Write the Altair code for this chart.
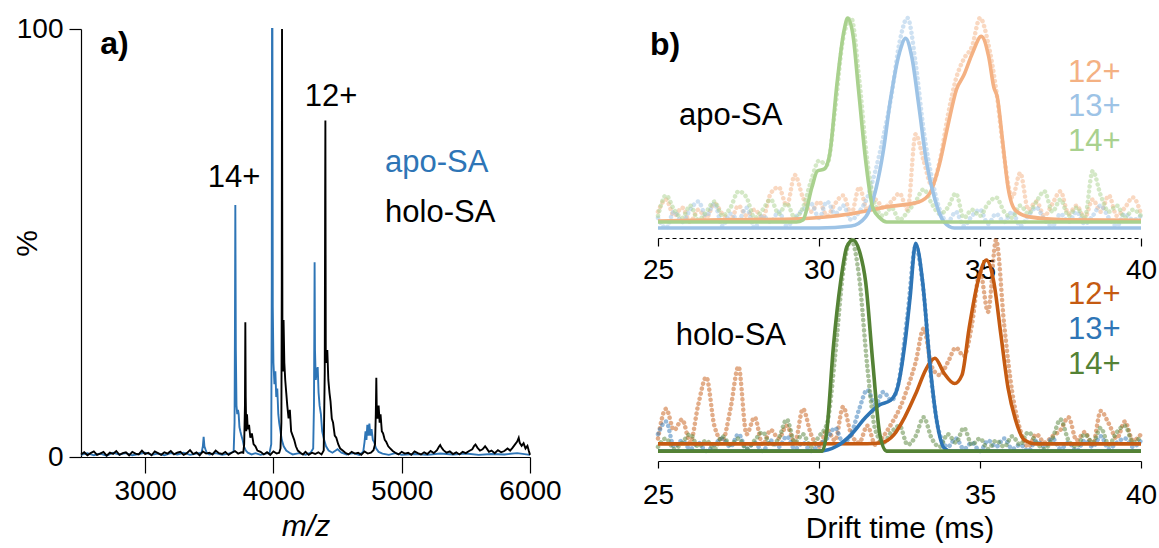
import altair as alt
import pandas as pd

FONT = "Liberation Sans"
FS = 28      # tick labels
FA = 31      # annotations / titles

# ---------------- panel a: mass spectra (m/z, %) ----------------
APO_SPECTRUM = [
    (2500, 0.5), (2550, 0.9), (2600, 0.4), (2650, 0.8), (2700, 0.3), (2750, 1.0), (2800, 0.6), (2850, 0.9),
    (2900, 0.4), (2950, 0.7), (3000, 1.0), (3050, 0.5), (3100, 0.8), (3150, 0.4), (3200, 0.9), (3250, 0.6),
    (3300, 1.0), (3350, 0.5), (3400, 0.8), (3440, 1.0), (3450, 2.5), (3456, 4.7), (3462, 2.5), (3470, 1.8),
    (3480, 1.0), (3500, 0.6), (3550, 0.9), (3600, 0.5), (3650, 0.8), (3690, 1.2), (3697, 8.0),
    (3700, 30.0), (3703, 58.9), (3707, 25.0), (3712, 12.0), (3718, 10.0), (3724, 11.0), (3729, 10.0),
    (3735, 7.0), (3742, 6.0), (3750, 5.0), (3760, 4.0), (3770, 2.5), (3785, 1.5), (3800, 1.0), (3830, 0.6),
    (3860, 0.9), (3900, 0.5), (3940, 0.8), (3970, 1.0), (3983, 3.0),
    (3987, 40.0), (3989, 100.0), (3992, 100.0), (3995, 35.0), (4000, 22.0), (4008, 17.0), (4015, 20.0),
    (4022, 14.0), (4030, 16.0), (4038, 10.0), (4045, 8.0), (4055, 6.0), (4065, 4.0), (4080, 2.5),
    (4100, 1.5), (4125, 1.0), (4150, 0.6), (4200, 0.9), (4250, 0.5), (4290, 1.0), (4310, 2.0), (4316, 12.0),
    (4319, 30.0), (4321, 45.5), (4324, 25.0), (4330, 18.0), (4337, 20.0), (4345, 21.0), (4352, 15.0),
    (4360, 12.0), (4370, 10.0), (4380, 6.0), (4395, 4.0), (4410, 2.5), (4430, 1.5), (4460, 1.0),
    (4500, 1.8), (4530, 1.0), (4570, 0.6), (4620, 0.9), (4670, 0.5), (4700, 1.2),
    (4710, 3.5), (4718, 6.0), (4725, 4.0), (4732, 7.5), (4740, 5.0), (4748, 7.8), (4756, 5.0), (4765, 6.5),
    (4775, 4.0), (4785, 3.5), (4800, 2.0), (4820, 1.2), (4850, 0.8), (4900, 0.5), (4950, 0.9), (5000, 0.5),
    (5100, 0.7), (5200, 0.5), (5300, 0.8), (5400, 0.6), (5500, 0.8), (5600, 0.5), (5700, 0.7), (5800, 0.6),
    (5900, 0.9), (6000, 0.5),
]

HOLO_SPECTRUM = [
    (2500, 0.6), (2525, 1.1), (2550, 0.4), (2575, 0.9), (2600, 1.3), (2625, 0.5), (2650, 0.8), (2675, 1.2),
    (2700, 0.3), (2725, 1.0), (2750, 0.7), (2775, 1.4), (2800, 0.5), (2825, 0.9), (2850, 1.1), (2875, 0.4),
    (2900, 1.2), (2925, 0.8), (2950, 0.6), (2975, 1.5), (3000, 0.7), (3025, 1.0), (3050, 0.4), (3075, 1.3),
    (3100, 0.9), (3125, 0.5), (3150, 1.1), (3175, 0.8), (3200, 1.4), (3225, 0.6), (3250, 1.0), (3275, 1.2),
    (3300, 0.5), (3325, 0.9), (3350, 1.6), (3375, 0.7), (3400, 1.1), (3425, 0.4), (3450, 1.3), (3475, 0.8),
    (3500, 1.0), (3525, 0.6), (3550, 1.5), (3575, 0.9), (3600, 0.7), (3625, 1.2), (3650, 0.5), (3675, 1.0),
    (3700, 1.4), (3725, 0.8), (3750, 1.1),
    (3765, 1.0), (3772, 3.0), (3778, 12.0), (3781, 31.5), (3784, 14.0), (3788, 6.0), (3794, 10.0),
    (3800, 6.5), (3810, 7.5), (3820, 4.5), (3832, 5.5), (3845, 3.0), (3860, 2.5), (3875, 1.5), (3900, 1.2),
    (3925, 0.6), (3950, 1.1), (3975, 0.5), (4000, 1.3), (4025, 0.8), (4045, 1.0), (4055, 2.0),
    (4062, 8.0), (4065, 40.0), (4067, 100.0), (4070, 30.0), (4074, 20.0), (4079, 32.0), (4085, 22.0),
    (4092, 18.0), (4100, 15.0), (4108, 12.0), (4118, 9.0), (4128, 11.0), (4138, 6.0), (4150, 5.0),
    (4162, 4.0), (4175, 2.5), (4190, 1.5), (4210, 1.0), (4230, 0.6), (4250, 1.2), (4275, 0.5), (4300, 1.0),
    (4325, 0.7), (4350, 1.1), (4375, 0.6), (4392, 1.5),
    (4400, 20.0), (4403, 60.0), (4405, 78.6), (4408, 25.0), (4413, 22.0), (4420, 25.0), (4428, 18.0),
    (4437, 15.0), (4445, 13.0), (4455, 9.0), (4465, 8.0), (4478, 5.0), (4490, 4.5), (4505, 3.0),
    (4520, 2.0), (4540, 1.5), (4560, 1.0), (4585, 0.6), (4610, 1.2), (4635, 0.8), (4660, 1.0), (4685, 0.5),
    (4710, 1.3), (4735, 0.8), (4760, 1.0), (4780, 1.6), (4792, 3.0),
    (4798, 10.0), (4802, 18.5), (4806, 10.0), (4812, 9.0), (4820, 12.0), (4828, 8.0), (4835, 10.0),
    (4845, 6.0), (4855, 5.5), (4868, 4.0), (4880, 3.5), (4895, 2.5), (4910, 2.0), (4930, 1.4), (4950, 1.0),
    (4975, 0.6), (5000, 1.2), (5025, 0.8), (5050, 1.0), (5075, 0.5), (5100, 1.3), (5125, 0.9), (5150, 0.6),
    (5175, 1.1), (5200, 0.7), (5225, 1.4), (5250, 0.9), (5275, 1.6), (5290, 2.4), (5300, 2.8), (5310, 2.2),
    (5325, 1.6), (5350, 1.0), (5375, 1.3), (5400, 0.7), (5425, 1.1), (5450, 0.6), (5475, 1.2), (5500, 0.9),
    (5525, 1.4), (5550, 1.8), (5565, 2.6), (5575, 2.9), (5590, 2.2), (5610, 1.5), (5630, 1.8), (5650, 2.5),
    (5665, 1.9), (5680, 1.2), (5700, 1.5), (5725, 0.9), (5750, 1.6), (5775, 1.1), (5800, 1.4), (5825, 2.0),
    (5845, 1.5), (5865, 2.2), (5885, 3.0), (5900, 3.6), (5912, 4.5), (5920, 3.3), (5935, 2.6), (5950, 3.2),
    (5965, 2.0), (5980, 2.6), (5990, 1.5), (6000, 0.5),
]

MZ_TICKS = [3000, 4000, 5000, 6000]
PCT_TICKS = [0, 100]

# ---------------- panel b: arrival time distributions ----------------
IONS = ["12+", "13+", "14+"]
DT_TICKS = [25, 30, 35, 40]

DT_RAW = [25.0, 25.25, 25.5, 25.75, 26.0, 26.25, 26.5, 26.75, 27.0, 27.25, 27.5, 27.75, 28.0, 28.25,
          28.5, 28.75, 29.0, 29.25, 29.5, 29.75, 30.0, 30.25, 30.5, 30.75, 31.0, 31.25, 31.5, 31.75,
          32.0, 32.25, 32.5, 32.75, 33.0, 33.25, 33.5, 33.75, 34.0, 34.25, 34.5, 34.75, 35.0, 35.25,
          35.5, 35.75, 36.0, 36.25, 36.5, 36.75, 37.0, 37.25, 37.5, 37.75, 38.0, 38.25, 38.5, 38.75,
          39.0, 39.25, 39.5, 39.75, 40.0]

APO_RAW_12 = [0.05, 0.11, 0.03, 0.07, 0.00, 0.06, 0.02, 0.09, 0.04, 0.01, 0.08, 0.03, 0.06, 0.02, 0.14,
              0.17, 0.08, 0.23, 0.12, 0.05, 0.10, 0.03, 0.09, 0.13, 0.04, 0.17, 0.06, 0.11, 0.07, 0.10,
              0.14, 0.06, 0.43, 0.30, 0.18, 0.30, 0.52, 0.70, 0.80, 0.86, 1.00, 0.88, 0.65, 0.32, 0.12,
              0.24, 0.06, 0.10, 0.03, 0.09, 0.15, 0.04, 0.08, 0.02, 0.11, 0.05, 0.13, 0.03, 0.07, 0.12, 0.04]
APO_RAW_13 = [0.02, -0.03, 0.05, 0.00, 0.06, 0.10, 0.03, 0.09, -0.02, 0.04, 0.01, 0.07, -0.03, 0.03, 0.00,
              0.05, -0.02, 0.02, 0.06, 0.09, 0.02, 0.10, 0.04, 0.08, 0.01, 0.05, 0.12, 0.25, 0.42, 0.62,
              0.88, 1.00, 0.78, 0.45, 0.22, 0.06, 0.00, 0.05, -0.02, 0.03, 0.06, -0.01, 0.04, 0.00, 0.05,
              -0.02, 0.03, 0.07, 0.01, -0.02, 0.04, 0.00, 0.05, -0.01, 0.03, 0.08, 0.02, -0.02, 0.04, 0.01, 0.03]
APO_RAW_14 = [0.03, 0.13, 0.06, 0.02, 0.08, 0.01, 0.05, 0.10, 0.03, 0.07, 0.15, 0.12, 0.02, 0.06, 0.11,
              0.04, 0.09, 0.02, 0.07, 0.20, 0.30, 0.28, 0.55, 0.90, 1.00, 0.70, 0.30, 0.08, 0.03, 0.07,
              0.01, 0.05, 0.10, 0.16, 0.09, 0.04, 0.07, 0.14, 0.02, 0.06, 0.03, 0.09, 0.12, 0.05, 0.02,
              0.08, 0.04, 0.10, 0.15, 0.05, 0.11, 0.03, 0.07, 0.02, 0.25, 0.13, 0.05, 0.08, 0.02, 0.06, 0.03]
HOLO_RAW_12 = [0.06, 0.20, 0.10, 0.15, 0.04, 0.22, 0.35, 0.12, 0.05, 0.20, 0.40, 0.08, 0.16, 0.03, 0.10,
               0.06, 0.12, 0.04, 0.20, 0.08, 0.02, 0.10, 0.05, 0.21, 0.08, 0.04, 0.12, 0.03, 0.07, 0.13,
               0.20, 0.30, 0.42, 0.58, 0.40, 0.36, 0.42, 0.49, 0.45, 0.60, 0.85, 0.66, 1.00, 0.60, 0.28,
               0.10, 0.02, 0.08, 0.04, 0.07, 0.10, 0.16, 0.05, 0.09, 0.03, 0.19, 0.13, 0.06, 0.14, 0.05, 0.08]
HOLO_RAW_13 = [0.08, 0.14, 0.02, 0.05, 0.01, 0.04, 0.00, 0.03, 0.06, 0.02, 0.08, 0.01, 0.04, 0.00, 0.05,
               0.02, 0.07, 0.01, 0.04, 0.00, 0.03, 0.06, 0.11, 0.04, 0.08, 0.20, 0.29, 0.22, 0.28, 0.24,
               0.35, 0.65, 0.97, 0.75, 0.32, 0.08, 0.02, 0.06, 0.01, 0.04, 0.00, 0.05, 0.02, 0.06, 0.01,
               0.03, 0.00, 0.05, 0.02, 0.06, 0.01, 0.04, 0.00, 0.05, 0.02, 0.07, 0.01, 0.04, 0.06, 0.02, 0.05]
HOLO_RAW_14 = [0.02, 0.06, 0.01, 0.04, 0.08, 0.02, 0.05, 0.01, 0.07, 0.03, 0.06, 0.01, 0.05, 0.09, 0.03,
               0.06, 0.15, 0.04, 0.08, 0.02, 0.07, 0.13, 0.45, 0.85, 1.00, 0.82, 0.40, 0.10, 0.04, 0.09,
               0.12, 0.03, 0.07, 0.16, 0.06, 0.02, 0.08, 0.04, 0.11, 0.03, 0.06, 0.01, 0.05, 0.02, 0.07,
               0.03, 0.09, 0.04, 0.01, 0.06, 0.15, 0.05, 0.02, 0.08, 0.04, 0.11, 0.03, 0.09, 0.12, 0.04, 0.07]

APO_FIT_12 = [(25.0, 0.005), (27.0, 0.010), (29.45, 0.016), (31.0, 0.04), (32.1, 0.074), (33.1, 0.098),
              (33.44, 0.14), (33.72, 0.27), (34.0, 0.47), (34.27, 0.65), (34.5, 0.72), (34.77, 0.83),
              (35.04, 0.91), (35.27, 0.81), (35.43, 0.66), (35.54, 0.61), (35.7, 0.40), (35.87, 0.17),
              (36.1, 0.057), (36.54, 0.025), (37.65, 0.011), (40.0, 0.008)]
APO_FIT_13 = [(25.0, -0.03), (30.0, -0.03), (31.0, -0.02), (31.45, 0.025), (31.78, 0.17), (32.0, 0.35),
              (32.22, 0.60), (32.5, 0.83), (32.69, 0.90), (32.88, 0.81), (33.1, 0.57), (33.33, 0.30),
              (33.6, 0.11), (33.88, 0.0), (34.2, -0.03), (40.0, -0.03)]
APO_FIT_14 = [(25.0, 0.0), (29.3, 0.0), (29.5, 0.01), (29.78, 0.17), (29.95, 0.25), (30.17, 0.26),
              (30.34, 0.34), (30.56, 0.68), (30.78, 0.94), (30.89, 1.0), (31.06, 0.91), (31.22, 0.66),
              (31.45, 0.30), (31.67, 0.07), (31.89, 0.02), (32.1, 0.0), (40.0, 0.0)]
HOLO_FIT_12 = [(25.0, 0.034), (31.5, 0.035), (31.89, 0.038), (32.33, 0.078), (32.66, 0.16), (33.0, 0.27),
               (33.33, 0.39), (33.6, 0.44), (33.88, 0.37), (34.21, 0.32), (34.44, 0.36), (34.66, 0.58),
               (34.93, 0.80), (35.2, 0.905), (35.43, 0.80), (35.65, 0.55), (35.87, 0.30), (36.1, 0.15),
               (36.37, 0.054), (36.76, 0.034), (40.0, 0.034)]
HOLO_FIT_13 = [(25.0, 0.0), (30.0, 0.0), (30.56, 0.024), (31.0, 0.078), (31.45, 0.16), (31.89, 0.22),
               (32.22, 0.24), (32.44, 0.30), (32.66, 0.50), (32.83, 0.73), (33.0, 0.985), (33.22, 0.80),
               (33.44, 0.42), (33.66, 0.14), (33.88, 0.016), (34.1, 0.0), (40.0, 0.0)]
HOLO_FIT_14 = [(25.0, 0.0), (30.1, 0.0), (30.23, 0.078), (30.45, 0.50), (30.67, 0.80), (30.87, 0.97),
               (31.06, 1.0), (31.25, 0.95), (31.45, 0.80), (31.67, 0.42), (31.89, 0.078), (32.1, 0.0),
               (40.0, 0.0)]

APO_BLUE = "#2E75B6"
LIGHT = ["#F4B183", "#9DC3E6", "#A9D18E"]
DARK = ["#C55A11", "#2E75B6", "#548235"]


def spectrum_df(pairs, name):
    return pd.DataFrame({"mz": [p[0] for p in pairs], "pct": [p[1] for p in pairs], "sample": name})


def fit_df(curves):
    frames = []
    for ion, pairs in zip(IONS, curves):
        frames.append(pd.DataFrame({"t": [p[0] for p in pairs], "v": [p[1] for p in pairs], "ion": ion}))
    return pd.concat(frames, ignore_index=True)


def raw_df(series):
    frames = []
    for ion, vals in zip(IONS, series):
        frames.append(pd.DataFrame({"t": DT_RAW, "v": vals, "ion": ion}))
    return pd.concat(frames, ignore_index=True)


ONE = pd.DataFrame({"k": [0]})


def label(text, x, y, xscale, yscale, xaxis, yaxis, color="black", size=FA, weight="normal", align="left"):
    return alt.Chart(ONE).mark_text(
        text=text, font=FONT, fontSize=size, fontWeight=weight, color=color, align=align,
        baseline="middle",
    ).encode(
        x=alt.XDatum(x, type="quantitative", scale=xscale, axis=xaxis),
        y=alt.YDatum(y, type="quantitative", scale=yscale, axis=yaxis),
    )


# ---------- panel a ----------
mz_scale = alt.Scale(domain=[2500, 6000], nice=False, zero=False)
pct_scale = alt.Scale(domain=[0, 100], nice=False, zero=False)
mz_axis = alt.Axis(values=MZ_TICKS, format="d", title="m/z", titleFontStyle="italic", tickSize=16,
                   labelPadding=4, labelFlush=False, titlePadding=6)
pct_axis = alt.Axis(values=PCT_TICKS, format="d", title="%", tickSize=12, labelPadding=6, titlePadding=-26)

spec = pd.concat([spectrum_df(APO_SPECTRUM, "apo-SA"), spectrum_df(HOLO_SPECTRUM, "holo-SA")],
                 ignore_index=True)

spectra = alt.Chart(spec).mark_line(strokeWidth=1.9, strokeJoin="miter").encode(
    x=alt.X("mz:Q", scale=mz_scale, axis=mz_axis),
    y=alt.Y("pct:Q", scale=pct_scale, axis=pct_axis),
    color=alt.Color("sample:N", scale=alt.Scale(domain=["apo-SA", "holo-SA"], range=[APO_BLUE, "black"]),
                    legend=None),
    detail="sample:N",
)


def la(text, x, y, **kw):
    return label(text, x, y, mz_scale, pct_scale, mz_axis, pct_axis, **kw)


panel_a = alt.layer(
    spectra,
    la("a)", 2650, 96.5, size=32, weight="bold"),
    la("14+", 3693, 65.2, align="center"),
    la("12+", 4449, 84.0, align="center"),
    la("apo-SA", 4870, 68.7, color=APO_BLUE),
    la("holo-SA", 4870, 57.0),
).properties(width=449, height=428)

# ---------- panel b ----------
dt_top = alt.Scale(domain=[25, 40], nice=False, zero=False)
dt_bot = alt.Scale(domain=[25, 40], nice=False, zero=False)
v_top = alt.Scale(domain=[-1.172, 0.946], nice=False, zero=False)
v_bot = alt.Scale(domain=[-0.047, 2.0], nice=False, zero=False)

top_axis = alt.Axis(orient="bottom", offset=-223, values=DT_TICKS, format="d", title=None, tickSize=8,
                    labelPadding=10, labelFlush=False, domainDash=[4, 3])
bot_axis = alt.Axis(orient="bottom", values=DT_TICKS, format="d", title="Drift time (ms)", tickSize=7,
                    labelPadding=13, labelFlush=False, titlePadding=4)


def group(raw, fit, xscale, yscale, axis, colors):
    cscale = alt.Scale(domain=IONS, range=colors)
    dots = alt.Chart(raw).mark_line(
        strokeDash=[0.1, 5.0], strokeCap="round", strokeWidth=4.5, opacity=0.5, interpolate="monotone"
    ).encode(
        x=alt.X("t:Q", scale=xscale, axis=axis),
        y=alt.Y("v:Q", scale=yscale, axis=None),
        color=alt.Color("ion:N", scale=cscale, legend=None),
        detail="ion:N",
    )
    fits = alt.Chart(fit).mark_line(strokeWidth=3.6, interpolate="monotone").encode(
        x=alt.X("t:Q", scale=xscale, axis=axis),
        y=alt.Y("v:Q", scale=yscale, axis=None),
        color=alt.Color("ion:N", scale=cscale, legend=None),
        detail="ion:N",
    )
    return dots, fits


top_dots, top_fits = group(raw_df([APO_RAW_12, APO_RAW_13, APO_RAW_14]),
                           fit_df([APO_FIT_12, APO_FIT_13, APO_FIT_14]), dt_top, v_top, top_axis, LIGHT)
bot_dots, bot_fits = group(raw_df([HOLO_RAW_12, HOLO_RAW_13, HOLO_RAW_14]),
                           fit_df([HOLO_FIT_12, HOLO_FIT_13, HOLO_FIT_14]), dt_bot, v_bot, bot_axis, DARK)


def lt(text, x, y, **kw):
    return label(text, x, y, dt_top, v_top, top_axis, None, **kw)


def lb(text, x, y, **kw):
    return label(text, x, y, dt_bot, v_bot, bot_axis, None, **kw)


bottom_group = alt.layer(
    bot_dots, bot_fits,
    lb("holo-SA", 25.55, 0.545),
    lb("12+", 37.73, 0.74, color=DARK[0]),
    lb("13+", 37.73, 0.573, color=DARK[1]),
    lb("14+", 37.73, 0.408, color=DARK[2]),
)
top_group = alt.layer(
    top_dots, top_fits,
    lt("b)", 24.75, 0.868, size=32, weight="bold"),
    lt("apo-SA", 25.65, 0.52),
    lt("12+", 37.73, 0.73, color=LIGHT[0]),
    lt("13+", 37.73, 0.564, color=LIGHT[1]),
    lt("14+", 37.73, 0.392, color=LIGHT[2]),
)

panel_b = alt.layer(bottom_group, top_group).resolve_scale(
    x="independent", y="independent", color="independent"
).properties(width=483, height=432)

chart = alt.hconcat(panel_a, panel_b, spacing=128, bounds="flush").properties(
    padding={"left": 12, "top": 8, "right": 0, "bottom": 0}, background="white"
).configure_view(strokeWidth=0).configure_axis(
    labelFont=FONT, titleFont=FONT, labelFontSize=FS, titleFontSize=30, labelColor="black",
    titleColor="black", domainColor="black", tickColor="black", titleFontWeight="normal", grid=False,
    domainWidth=1.2, tickWidth=1.2,
)

chart.save("out.html", embed_options={"renderer": "svg", "actions": False})
